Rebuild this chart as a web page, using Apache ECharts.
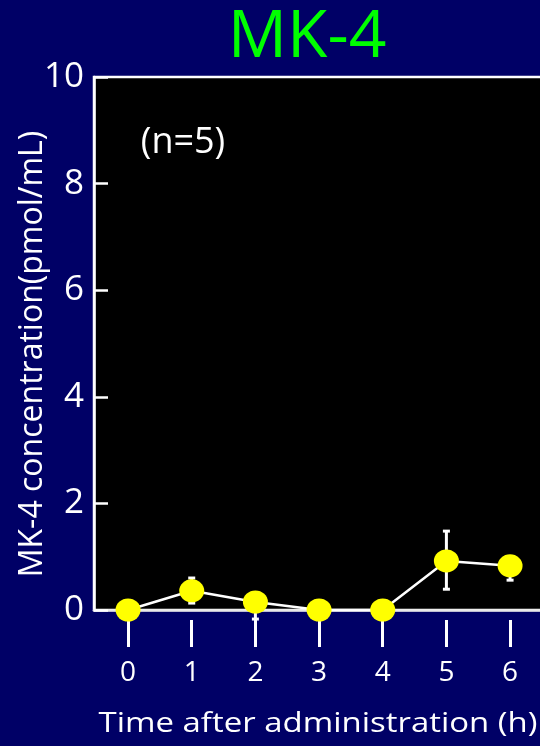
<!DOCTYPE html>
<html>
<head>
<meta charset="utf-8">
<script src="https://cdn.jsdelivr.net/npm/echarts@6/dist/echarts.min.js"></script>
<style>
  html, body { margin: 0; padding: 0; background: #000066; }
  #chart { width: 540px; height: 746px; }
</style>
</head>
<body>
<div id="chart"></div>
<script>
// Sampling times (h) and MK-4 plasma concentration (pmol/mL), mean with error range
const times = [0, 1, 2, 3, 4, 5, 6];
const timeLabels = ['0', '1', '2', '3', '4', '5', '6'];
const meanConc = [0, 0.36, 0.15, 0, 0, 0.92, 0.83];
const errLow = [0, 0.13, -0.17, 0, 0, 0.39, 0.56];
const errHigh = [0, 0.60, 0.15, 0, 0, 1.48, 0.83];
const yTicks = [0, 2, 4, 6, 8, 10];

const FONT = '"Open Sans", "Liberation Sans", sans-serif';

const points = times.map((t, i) => [t, meanConc[i]]);
const bars = times.map((t, i) => [t, errLow[i], errHigh[i]]);

// Plot frame: x from -0.535 so that hour 0 sits inside the left edge;
// the frame runs on past the right edge of the page
const X_MIN = -0.535;
const X_MAX = 6.847;

const chart = echarts.init(document.getElementById('chart'), null, { renderer: 'canvas' });

chart.setOption({
  backgroundColor: '#000066',
  animation: false,
  grid: {
    left: 94, top: 77, width: 470, height: 533,
    outerBoundsMode: 'none',
    containLabel: false,
    show: true,
    backgroundColor: '#000000',
    borderColor: '#ffffff',
    borderWidth: 2.5
  },
  xAxis: [
    {
      type: 'value', min: X_MIN, max: X_MAX,
      axisLine: { show: true, onZero: false, lineStyle: { color: '#e8e8e8', width: 2.5 } },
      axisTick: { show: false },
      axisLabel: { show: false },
      splitLine: { show: false }
    },
    {
      type: 'value', min: X_MIN, max: X_MAX, position: 'bottom', offset: 10,
      axisLine: { show: false, onZero: false },
      axisTick: {
        show: true, length: 27, customValues: times,
        lineStyle: { color: '#ffffff', width: 3 }
      },
      axisLabel: {
        show: true, customValues: times, margin: 39,
        color: '#ffffff', fontSize: 28, fontFamily: FONT,
        formatter: v => timeLabels[times.indexOf(v)]
      },
      splitLine: { show: false }
    }
  ],
  yAxis: {
    type: 'value', min: 0, max: 10, interval: 2,
    axisLine: { show: true, onZero: false, lineStyle: { color: '#ffffff', width: 2.5 } },
    axisTick: { show: true, inside: true, length: 14, lineStyle: { color: '#ffffff', width: 2.5 } },
    axisLabel: {
      color: '#ffffff', fontSize: 35, fontFamily: FONT, margin: 10,
      customValues: yTicks
    },
    splitLine: { show: false }
  },
  graphic: [
    {
      type: 'text', x: 307, y: 38,
      style: { text: 'MK-4', fill: '#00ff00', font: '66px ' + FONT, align: 'center', verticalAlign: 'middle' }
    },
    {
      type: 'text', x: 183, y: 143, z: 100,
      style: { text: '(n=5)', fill: '#ffffff', font: '36px ' + FONT, align: 'center', verticalAlign: 'middle' }
    },
    {
      type: 'text', x: 318, y: 724, scaleX: 1.22,
      style: { text: 'Time after administration (h)', fill: '#ffffff', font: '27px ' + FONT, align: 'center', verticalAlign: 'middle' }
    },
    {
      type: 'text', x: 33, y: 354, rotation: Math.PI / 2,
      style: { text: 'MK-4 concentration(pmol/mL)', fill: '#ffffff', font: '32px ' + FONT, align: 'center', verticalAlign: 'middle' }
    }
  ],
  series: [
    {
      // error bars, drawn beneath the markers
      type: 'custom',
      xAxisIndex: 0,
      clip: false,
      z: 2,
      data: bars,
      renderItem: function (params, api) {
        const x = api.value(0);
        const lo = api.coord([x, api.value(1)]);
        const hi = api.coord([x, api.value(2)]);
        const cap = 3.5;
        const style = { stroke: '#ffffff', lineWidth: 3 };
        return {
          type: 'group',
          children: [
            { type: 'line', shape: { x1: lo[0], y1: lo[1], x2: hi[0], y2: hi[1] }, style: style },
            { type: 'line', shape: { x1: lo[0] - cap, y1: lo[1], x2: lo[0] + cap, y2: lo[1] }, style: style },
            { type: 'line', shape: { x1: hi[0] - cap, y1: hi[1], x2: hi[0] + cap, y2: hi[1] }, style: style }
          ]
        };
      }
    },
    {
      type: 'line',
      xAxisIndex: 0,
      z: 3,
      data: points,
      clip: false,
      symbol: 'circle',
      symbolSize: [25, 23],
      lineStyle: { color: '#ffffff', width: 2.5 },
      itemStyle: { color: '#ffff00' }
    }
  ]
});
</script>
</body>
</html>
